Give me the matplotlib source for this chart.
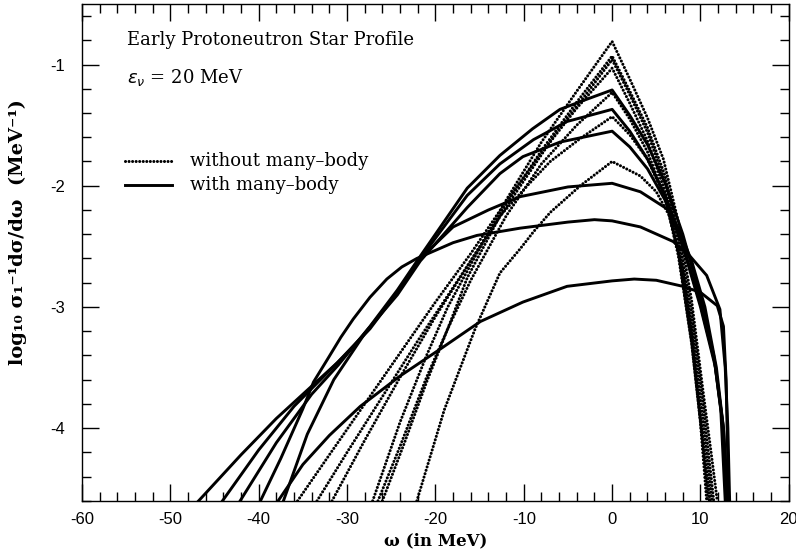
#
# Early protoneutron star profile: log10 of the normalised differential
# cross section vs energy transfer, with and without many-body effects.
#

import matplotlib
matplotlib.use('Agg')
import matplotlib.pyplot as plt
import matplotlib.ticker as ticker

# --- without many-body (dotted), omega in MeV / log10 value
w_dot1 = [-27.1, -24, -21, -18.6, -16, -12, -8, -4, 0, 2, 4, 5.8, 7.5, 9, 10.3, 11.2, 11.9]
y_dot1 = [-4.6, -3.95, -3.40, -3.0, -2.65, -2.12, -1.64, -1.22, -0.81, -1.12, -1.44, -1.78, -2.30, -2.95, -3.70, -4.2, -4.6]

w_dot2 = [-31.7, -28, -24, -20, -16, -12, -8, -4, 0, 2, 4, 6, 7.5, 9, 10.3, 11.5]
y_dot2 = [-4.6, -4.1, -3.58, -3.08, -2.62, -2.15, -1.71, -1.31, -0.93, -1.22, -1.52, -1.92, -2.40, -3.05, -3.80, -4.6]

w_dot3 = [-33.4, -30, -26, -22, -18, -14, -10, -6, -3, 0, 2, 4, 6, 7.5, 9, 10.2, 11.3]
y_dot3 = [-4.6, -4.2, -3.74, -3.28, -2.84, -2.40, -1.96, -1.53, -1.25, -0.96, -1.25, -1.56, -1.97, -2.47, -3.15, -3.88, -4.6]

w_dot4 = [-35.6, -32, -28, -24, -20, -16, -12, -8, -4, 0, 2, 4, 6, 7.5, 9, 10.1, 11.1]
y_dot4 = [-4.6, -4.22, -3.80, -3.38, -2.96, -2.56, -2.13, -1.73, -1.36, -1.03, -1.32, -1.63, -2.05, -2.55, -3.25, -3.95, -4.6]

w_dot5 = [-26.5, -24, -21, -18.6, -16, -12, -8, -4, 0, 2, 4, 6, 7.5, 9, 10, 11]
y_dot5 = [-4.6, -4.15, -3.58, -3.18, -2.78, -2.25, -1.82, -1.50, -1.23, -1.45, -1.72, -2.10, -2.58, -3.30, -3.95, -4.6]

w_dot6 = [-26.0, -23.5, -21, -18.6, -16.4, -12.7, -9.6, -7, -3.6, 0, 2, 4, 6, 7.5, 9, 10, 10.8]
y_dot6 = [-4.6, -4.12, -3.62, -3.18, -2.76, -2.25, -2.0, -1.80, -1.61, -1.43, -1.58, -1.78, -2.10, -2.55, -3.30, -3.95, -4.6]

w_dot7 = [-22.1, -19, -15.5, -12.7, -10.4, -8.9, -7, -3.6, 0, 3.2, 5, 6.5, 8, 9, 10, 10.7]
y_dot7 = [-4.6, -3.85, -3.18, -2.72, -2.52, -2.38, -2.22, -2.0, -1.80, -1.92, -2.05, -2.25, -2.70, -3.20, -3.95, -4.6]

# --- with many-body (solid)
w_sol1 = [-42.1, -38, -34, -31, -27.4, -24.3, -21.7, -16.4, -12.7, -9, -5.9, -3, 0,
          2, 4, 6, 8, 10, 11.5, 12.3, 12.8]
y_sol1 = [-4.6, -4.12, -3.72, -3.48, -3.16, -2.86, -2.58, -2.02, -1.75, -1.53, -1.37, -1.29, -1.21,
          -1.42, -1.66, -1.98, -2.40, -2.92, -3.40, -3.85, -4.6]

w_sol2 = [-44.1, -40, -36, -33, -30, -27.4, -24.3, -21.7, -16.4, -12.7, -8.9, -5.1, 0,
          2, 4, 6, 8, 10, 11.6, 12.5, 13.0]
y_sol2 = [-4.6, -4.18, -3.82, -3.60, -3.38, -3.18, -2.88, -2.60, -2.08, -1.82, -1.62, -1.47, -1.37,
          -1.55, -1.78, -2.08, -2.48, -2.98, -3.45, -3.95, -4.6]

w_sol3 = [-46.8, -42, -38, -35.3, -31.1, -28.5, -24.3, -21.7, -16.4, -12.7, -10.1, -5.9, 0,
          2, 4, 6, 8, 10, 11.7, 12.6, 13.1]
y_sol3 = [-4.6, -4.22, -3.92, -3.74, -3.46, -3.26, -2.90, -2.62, -2.18, -1.90, -1.76, -1.64, -1.55,
          -1.68, -1.86, -2.12, -2.50, -3.0, -3.5, -4.0, -4.6]

w_sol4 = [-37.2, -34.5, -31.5, -28, -24.3, -21.7, -18, -14, -10.4, -5, 0,
          3.2, 6.2, 7.5, 9, 10.5, 11.8, 12.6, 13.1]
y_sol4 = [-4.6, -4.05, -3.60, -3.22, -2.88, -2.60, -2.34, -2.20, -2.09, -2.01, -1.98,
          -2.05, -2.19, -2.35, -2.62, -3.0, -3.5, -4.0, -4.6]

w_sol5 = [-39.8, -37.5, -35, -33.8, -32.2, -30.7, -29.3, -27.4, -25.5, -23.8, -22.1, -18, -15.3, -10.4, -5, -2, 0,
          3.2, 6.9, 8.8, 10.7, 12.2, 12.8, 13.1, 13.3]
y_sol5 = [-4.6, -4.25, -3.84, -3.62, -3.43, -3.25, -3.10, -2.92, -2.77, -2.67, -2.60, -2.47, -2.41, -2.35, -2.30, -2.28, -2.29,
          -2.34, -2.46, -2.58, -2.74, -3.02, -3.5, -4.0, -4.6]

w_sol6 = [-37.8, -35, -32, -28.5, -24, -19.5, -14.9, -10.1, -5.1, 0, 2.5,
          5, 8, 10, 11.9, 12.6, 12.9, 13.1, 13.2]
y_sol6 = [-4.6, -4.30, -4.06, -3.82, -3.57, -3.35, -3.12, -2.96, -2.83, -2.785, -2.77,
          -2.78, -2.83, -2.88, -2.99, -3.16, -3.6, -4.31, -4.6]

dotted = [(w_dot1, y_dot1), (w_dot2, y_dot2), (w_dot3, y_dot3), (w_dot4, y_dot4),
          (w_dot5, y_dot5), (w_dot6, y_dot6), (w_dot7, y_dot7)]
solid = [(w_sol1, y_sol1), (w_sol2, y_sol2), (w_sol3, y_sol3),
         (w_sol4, y_sol4), (w_sol5, y_sol5), (w_sol6, y_sol6)]

x_ticks = [-60, -50, -40, -30, -20, -10, 0, 10, 20]
y_ticks = [-4, -3, -2, -1]

DOTS = (0, (0.01, 1.15))
DOT_LW = 2.2
SOLID_LW = 2.1


def main():
    plt.rcParams['axes.unicode_minus'] = False
    fig = plt.figure(figsize=(7.96, 5.59), dpi=100)
    ax = fig.add_axes([0.103, 0.104, 0.888, 0.889])

    for w, y in dotted:
        ax.plot(w, y, color='black', linewidth=DOT_LW, linestyle=DOTS,
                dash_capstyle='round')
    for w, y in solid:
        ax.plot(w, y, color='black', linewidth=SOLID_LW, solid_joinstyle='round')

    ax.set_xlim(-60, 20)
    ax.set_ylim(-4.6, -0.5)
    ax.set_xticks(x_ticks)
    ax.set_yticks(y_ticks)
    ax.xaxis.set_minor_locator(ticker.MultipleLocator(2))
    ax.yaxis.set_minor_locator(ticker.MultipleLocator(0.2))
    ax.tick_params(which='both', direction='in', top=True, right=True,
                   width=1.0, labelsize=12, labelfontfamily='Liberation Sans')
    ax.tick_params(which='major', length=12)
    ax.tick_params(which='minor', length=6.5)
    ax.tick_params(axis='x', pad=8)
    ax.tick_params(axis='y', pad=12)
    for sp in ax.spines.values():
        sp.set_linewidth(1.0)

    serif = 'DejaVu Serif'
    ax.text(-54.9, -0.80, 'Early Protoneutron Star Profile',
            fontsize=13, family=serif, va='center')
    ax.text(-54.9, -1.11, r'$\epsilon_\nu$ = 20 MeV', fontsize=13,
            family=serif, va='center')

    # hand-made legend
    ax.plot([-55.1, -49.8], [-1.8, -1.8], color='black', linewidth=DOT_LW,
            linestyle=DOTS, dash_capstyle='round')
    ax.plot([-55.1, -49.8], [-1.99, -1.99], color='black', linewidth=SOLID_LW)
    ax.text(-47.8, -1.8, 'without many\u2013body', fontsize=13,
            family=serif, va='center')
    ax.text(-47.8, -1.99, 'with many\u2013body', fontsize=13,
            family=serif, va='center')

    ax.set_xlabel('\u03c9 (in MeV)', fontsize=12, family=serif,
                  fontweight='bold', labelpad=4)
    ax.set_ylabel('log\u2081\u2080 \u03c3\u2081\u207b\u00b9d\u03c3/d\u03c9  (MeV\u207b\u00b9)',
                  fontsize=14, family=serif, fontweight='bold')
    ax.yaxis.set_label_coords(-0.078, 0.54)

    fig.savefig('out.png', dpi=100)


if __name__ == '__main__':
    main()
